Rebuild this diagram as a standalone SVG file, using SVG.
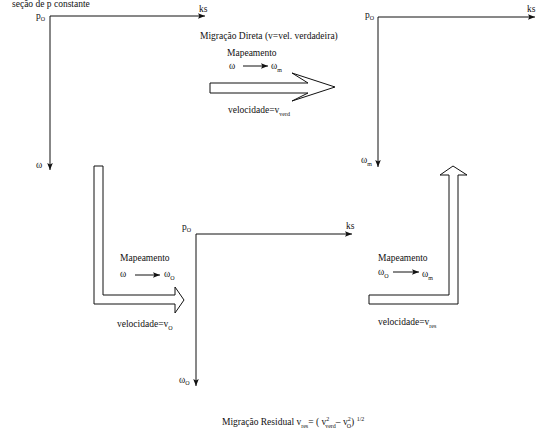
<svg xmlns="http://www.w3.org/2000/svg" width="536" height="435" viewBox="0 0 536 435" font-family="'Liberation Serif', 'Times New Roman', serif">
  <defs>
    <marker id="ah" viewBox="0 0 10 10" refX="10" refY="5" markerWidth="7" markerHeight="7" markerUnits="userSpaceOnUse" orient="auto">
      <path d="M0,1 L10,5 L0,9 L2,5 Z" fill="#111"/>
    </marker>
    <style>
      text { font-family: 'Liberation Serif', 'Times New Roman', serif; font-size: 9.5px; fill: #111; }
      .sub { font-size: 6px; }
      .axis { stroke: #111; stroke-width: 1; fill: none; marker-end: url(#ah); }
      .big { stroke: #111; stroke-width: 1; fill: #fff; }
      .map { stroke: #111; stroke-width: 1; fill: none; marker-end: url(#ah); }
    </style>
  </defs>

  <rect width="536" height="435" fill="#fff"/>

  <!-- panel 1: section at constant p -->
  <g id="panel-top-left">
    <text x="12" y="7">seção de p constante</text>
    <text x="36" y="19">p<tspan class="sub" dy="2">O</tspan></text>
    <text x="199" y="12">ks</text>
    <text x="36" y="168">ω</text>
  </g>

  <!-- panel 2: after direct migration -->
  <g id="panel-top-right">
    <text x="365" y="18">p<tspan class="sub" dy="2">O</tspan></text>
    <text x="527" y="12">ks</text>
    <text x="361" y="163">ω<tspan class="sub" dy="3">m</tspan></text>
  </g>

  <!-- panel 3: middle axes -->
  <g id="panel-middle">
    <text x="182" y="230">p<tspan class="sub" dy="2">O</tspan></text>
    <text x="346" y="229">ks</text>
    <text x="179" y="383">ω<tspan class="sub" dy="2">O</tspan></text>
  </g>

  <!-- direct migration block arrow -->
  <g id="direct-migration">
    <text x="200" y="39">Migração Direta (v=vel. verdadeira)</text>
    <text x="227" y="56">Mapeamento</text>
    <text x="229" y="69">ω</text>
    <text x="271" y="69">ω<tspan class="sub" dy="3">m</tspan></text>
    <path class="big" d="M210,83 L308,83 L292,73 L335,87 L292,101 L308,93 L210,93 Z"/>
    <text x="228" y="113">velocidade=v<tspan class="sub" dy="3">verd</tspan></text>
  </g>

  <!-- mapping to omega_o -->
  <g id="map-omega-o">
    <path class="big" d="M94,166 L103,166 L103,295 L175,295 L175,287 L184,300 L175,313 L175,304 L94,304 Z"/>
    <text x="120" y="261">Mapeamento</text>
    <text x="120" y="277">ω</text>
    <text x="164" y="277">ω<tspan class="sub" dy="3">O</tspan></text>
    <text x="117" y="327">velocidade=v<tspan class="sub" dy="3">O</tspan></text>
  </g>

  <!-- residual migration -->
  <g id="residual-migration">
    <path class="big" d="M369,295 L449,295 L449,175 L440,175 L453,166 L467,175 L458,175 L458,304 L369,304 Z"/>
    <text x="378" y="261">Mapeamento</text>
    <text x="378" y="275">ω<tspan class="sub" dy="3">O</tspan></text>
    <text x="422" y="277">ω<tspan class="sub" dy="3">m</tspan></text>
    <text x="378" y="325">velocidade=v<tspan class="sub" dy="3">res</tspan></text>
  </g>

  <!-- formula -->
  <g id="formula">
    <text x="222" y="425">Migração Residual  v<tspan class="sub" dy="3">res</tspan><tspan dy="-3">= ( v</tspan><tspan class="sub" dy="-4">2</tspan><tspan class="sub" dx="-4" dy="7">verd</tspan><tspan dy="-3">– v</tspan><tspan class="sub" dy="-4">2</tspan><tspan class="sub" dx="-4" dy="7">O</tspan><tspan dy="-3">) </tspan><tspan class="sub" dy="-4">1/2</tspan></text>
  </g>

  <!-- axes and small mapping arrows -->
  <g id="connectors">
    <path class="axis" d="M50,16 L205,16"/>
    <path class="axis" d="M50,16 L50,170"/>
    <path class="axis" d="M378,17 L535,17"/>
    <path class="axis" d="M378,17 L378,167"/>
    <path class="axis" d="M196,234 L352,234"/>
    <path class="axis" d="M196,234 L196,386"/>
    <path class="map" d="M243,66 L268,66"/>
    <path class="map" d="M135,275 L160,275"/>
    <path class="map" d="M393,272 L419,272"/>
  </g>
</svg>
